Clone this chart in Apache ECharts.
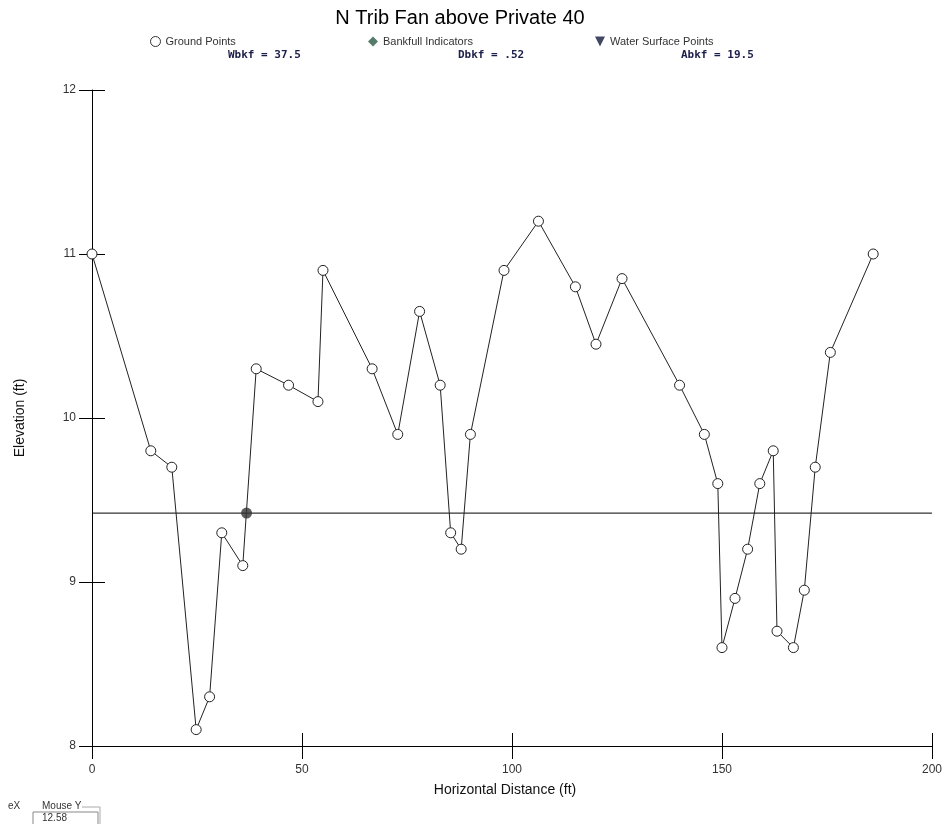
<!DOCTYPE html>
<html>
<head>
<meta charset="utf-8">
<script src="https://cdn.jsdelivr.net/npm/echarts@6/dist/echarts.min.js"></script>
<style>
  html, body { margin: 0; padding: 0; background: #fff; }
  #chart { width: 945px; height: 824px; }
</style>
</head>
<body>
<div id="chart"></div>
<script>
// Cross-section survey: station (ft) and elevation (ft)
const stations = [0, 14.0, 19.0, 24.8, 28.0, 30.9, 35.9, 39.1, 46.8, 53.8, 55.0,
  66.7, 72.8, 78.0, 82.9, 85.4, 87.9, 90.1, 98.1, 106.3, 115.1, 120.0, 126.2,
  139.9, 145.8, 149.0, 150.0, 153.1, 156.1, 159.0, 162.2, 163.1, 167.0, 169.6,
  172.2, 175.8, 186.0];
const elevations = [11.0, 9.8, 9.7, 8.1, 8.3, 9.3, 9.1, 10.3, 10.2, 10.1, 10.9,
  10.3, 9.9, 10.65, 10.2, 9.3, 9.2, 9.9, 10.9, 11.2, 10.8, 10.45, 10.85,
  10.2, 9.9, 9.6, 8.6, 8.9, 9.2, 9.6, 9.8, 8.7, 8.6, 8.95,
  9.7, 10.4, 11.0];

// Bankfull stage and indicator
const bankfullElevation = 9.42;
const bankfullStations = [36.8];
const waterSurfaceStations = [];
const waterSurfaceElevations = [];

// Axis ranges / ticks
const xTicks = { min: 0, max: 200, step: 50 };
const yTicks = { min: 8, max: 12, step: 1 };

// Summary statistics
const stats = ['Wbkf = 37.5', 'Dbkf = .52', 'Abkf = 19.5'];

const groundData = stations.map((s, i) => [s, elevations[i]]);
const bankfullData = bankfullStations.map(s => [s, bankfullElevation]);
const waterData = waterSurfaceStations.map((s, i) => [s, waterSurfaceElevations[i]]);
const stageLine = [[xTicks.min, bankfullElevation], [xTicks.max, bankfullElevation]];

const chart = echarts.init(document.getElementById('chart'), null, { renderer: 'canvas' });

const axisFont = { fontFamily: 'Arial, Liberation Sans, sans-serif', fontSize: 12, color: '#333' };
const legendText = { fontFamily: 'Arial, Liberation Sans, sans-serif', fontSize: 11, color: '#333' };
const statFont = { fontFamily: 'DejaVu Sans Mono, monospace', fontSize: 11, fontWeight: 'bold', fill: '#1c1f4a' };

chart.setOption({
  animation: false,
  backgroundColor: '#fff',
  title: {
    text: 'N Trib Fan above Private 40',
    left: 455, top: 3, textAlign: 'center',
    textStyle: { fontFamily: 'Arial, Liberation Sans, sans-serif', fontSize: 20, fontWeight: 'normal', color: '#000' }
  },
  legend: [
    { data: [{ name: 'Ground Points', icon: 'circle', itemStyle: { color: '#fff', borderColor: '#333', borderWidth: 1 } }],
      left: 145, top: 31, itemWidth: 10, itemHeight: 10, itemGap: 4, textStyle: legendText, selectedMode: false },
    { data: [{ name: 'Bankfull Indicators', icon: 'diamond', itemStyle: { color: '#2d5a45' } }],
      left: 363, top: 31, itemWidth: 10, itemHeight: 10, textStyle: legendText, selectedMode: false },
    { data: [{ name: 'Water Surface Points', icon: 'path://M0,0 L10,0 L5,10 Z', itemStyle: { color: '#111a3c' } }],
      left: 590, top: 31, itemWidth: 10, itemHeight: 10, textStyle: legendText, selectedMode: false }
  ],
  grid: { left: 92, right: 10, top: 90, bottom: 78, containLabel: false },
  xAxis: [
    { type: 'value', min: xTicks.min, max: xTicks.max, interval: xTicks.step,
      axisLine: { show: true, onZero: false, lineStyle: { color: '#000', width: 1 } },
      axisTick: { show: true, length: 13, lineStyle: { color: '#000' } },
      axisLabel: Object.assign({ margin: 18 }, axisFont),
      splitLine: { show: false } },
    { type: 'value', min: xTicks.min, max: xTicks.max, interval: xTicks.step, position: 'bottom',
      axisLine: { show: false },
      axisTick: { show: true, inside: true, length: 13, lineStyle: { color: '#000' } },
      axisLabel: { show: false }, splitLine: { show: false } }
  ],
  yAxis: [
    { type: 'value', min: yTicks.min, max: yTicks.max, interval: yTicks.step,
      axisLine: { show: true, onZero: false, lineStyle: { color: '#000', width: 1 } },
      axisTick: { show: true, length: 13, lineStyle: { color: '#000' } },
      axisLabel: Object.assign({ margin: 16 }, axisFont),
      splitLine: { show: false } },
    { type: 'value', min: yTicks.min, max: yTicks.max, interval: yTicks.step, position: 'left',
      axisLine: { show: false },
      axisTick: { show: true, inside: true, length: 13, lineStyle: { color: '#000' } },
      axisLabel: { show: false }, splitLine: { show: false } }
  ],
  series: [
    { name: 'Bankfull Stage', type: 'line', data: stageLine, symbol: 'none', silent: true,
      lineStyle: { color: '#000', width: 1 }, z: 1 },
    { name: 'Ground Points', type: 'line', data: groundData, symbol: 'circle', symbolSize: 10,
      itemStyle: { color: '#fff', borderColor: '#222', borderWidth: 1 },
      lineStyle: { color: '#222', width: 1 }, z: 2 },
    { name: 'Bankfull Indicators', type: 'scatter', data: bankfullData, symbol: 'circle', symbolSize: 11,
      itemStyle: { color: '#333' }, z: 3 },
    { name: 'Water Surface Points', type: 'scatter', data: waterData, symbol: 'triangle', symbolRotate: 180,
      symbolSize: 10, itemStyle: { color: '#111a3c' }, z: 3 }
  ],
  graphic: [
    { type: 'text', left: 228, top: 50, style: Object.assign({ text: stats[0] }, statFont) },
    { type: 'text', left: 458, top: 50, style: Object.assign({ text: stats[1] }, statFont) },
    { type: 'text', left: 681, top: 50, style: Object.assign({ text: stats[2] }, statFont) },
    { type: 'text', x: 505, y: 790, style: { text: 'Horizontal Distance (ft)', fontFamily: 'Arial, Liberation Sans, sans-serif',
        fontSize: 14, fill: '#111', textAlign: 'center', textVerticalAlign: 'middle' } },
    { type: 'text', x: 20, y: 418, rotation: Math.PI / 2, style: { text: 'Elevation (ft)', fontFamily: 'Arial, Liberation Sans, sans-serif',
        fontSize: 14, fill: '#111', textAlign: 'center', textVerticalAlign: 'middle' } },
    // cursor readout panel
    { type: 'text', left: 8, top: 801, style: { text: 'eX', fontFamily: 'Arial, sans-serif', fontSize: 10, fill: '#333' } },
    { type: 'text', left: 42, top: 801, style: { text: 'Mouse Y', fontFamily: 'Arial, sans-serif', fontSize: 10, fill: '#333' } },
    { type: 'polyline', shape: { points: [[82, 807], [100, 807], [100, 824]] }, style: { stroke: '#aaa', fill: null, lineWidth: 1 } },
    { type: 'polyline', shape: { points: [[33, 824], [33, 812], [98, 812], [98, 824]] }, style: { stroke: '#888', fill: null, lineWidth: 1 } },
    { type: 'text', left: 42, top: 813, style: { text: '12.58', fontFamily: 'Arial, sans-serif', fontSize: 10, fill: '#333' } }
  ]
});
</script>
</body>
</html>
